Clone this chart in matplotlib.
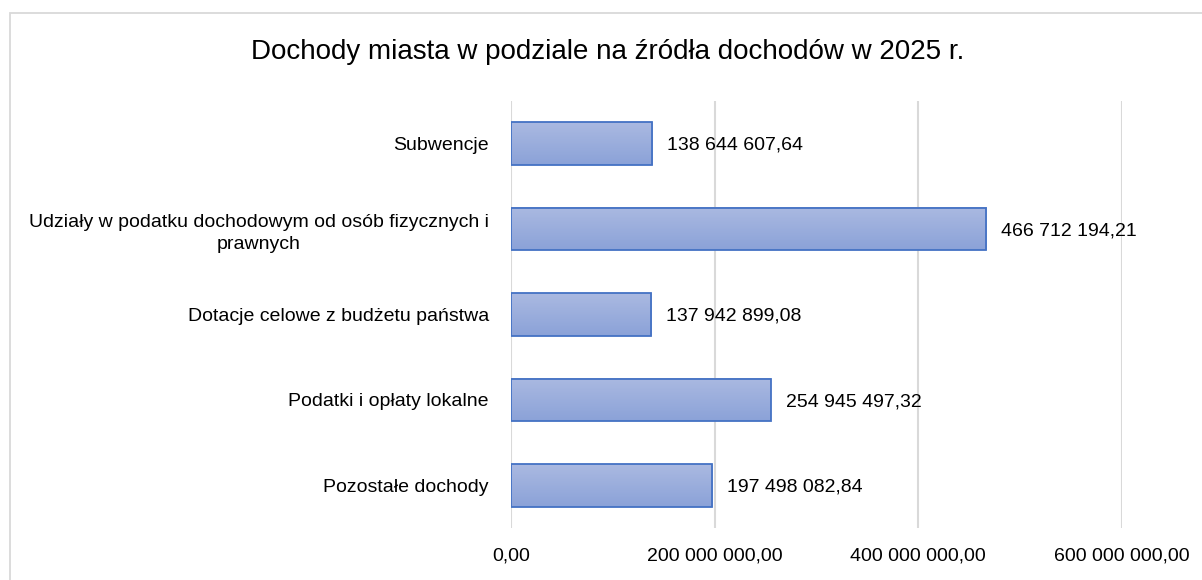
import numpy as np
import matplotlib
matplotlib.use("Agg")
import matplotlib.pyplot as plt
from matplotlib.patches import Rectangle
from matplotlib.colors import LinearSegmentedColormap

categories = ["Subwencje",
              "Udziały w podatku dochodowym od osób fizycznych i\nprawnych",
              "Dotacje celowe z budżetu państwa",
              "Podatki i opłaty lokalne",
              "Pozostałe dochody"]
values = [138644607.64, 466712194.21, 137942899.08, 254945497.32, 197498082.84]
xticks = [0, 200000000, 400000000, 600000000]
title = "Dochody miasta w podziale na źródła dochodów w 2025 r."

plt.rcParams['font.family'] = ['Liberation Sans Narrow', 'Liberation Sans', 'DejaVu Sans']


def pl_fmt(v):
    # polish style: space as thousands separator, comma as decimal mark
    s = f"{v:,.2f}"
    return s.replace(",", " ").replace(".", ",")


fig = plt.figure(figsize=(12.02, 5.80), dpi=100)
ax = fig.add_axes([511 / 1202, 1 - 528 / 580, (1122 - 511) / 1202, (528 - 101) / 580])

n = len(categories)
ypos = np.arange(n)[::-1]
grad_cmap = LinearSegmentedColormap.from_list("bar", ["#AAB9E1", "#8BA2D8"])
grad = np.linspace(0, 1, 64).reshape(-1, 1)

for y, v in zip(ypos, values):
    ax.imshow(grad, extent=(0, v, y - 0.25, y + 0.25), origin='upper',
              aspect='auto', cmap=grad_cmap, zorder=2)
    ax.barh(y, v, height=0.5, facecolor='none', edgecolor='#4472C4',
            linewidth=1.3, zorder=3)
    ax.text(v + 15 / 611 * 600e6, y - 0.02, pl_fmt(v), va='center', ha='left',
            fontsize=14, color='#000000')

ax.set_xlim(0, 600e6)
ax.set_ylim(-0.5, n - 0.5)
ax.set_yticks(ypos)
ax.set_yticklabels(categories, fontsize=14, multialignment='center', linespacing=1.4)
ax.set_xticks(xticks)
ax.set_xticklabels([pl_fmt(t) for t in xticks], fontsize=14)
ax.tick_params(axis='both', length=0)
ax.tick_params(axis='y', pad=16)
ax.tick_params(axis='x', pad=14)
ax.grid(axis='x', color='#D9D9D9', linewidth=1.5, zorder=0)
ax.set_axisbelow(True)
for sp in ax.spines.values():
    sp.set_visible(False)

fig.text(608 / 1202, 1 - 52 / 580, title, ha='center', va='center', fontsize=20)

border = Rectangle((9.5 / 1202, -0.1), 1.2, 1 - 12.5 / 580 + 0.1, transform=fig.transFigure,
                   fill=False, edgecolor='#D9D9D9', linewidth=1.3)
fig.patches.append(border)

fig.savefig("out.png", dpi=100)
